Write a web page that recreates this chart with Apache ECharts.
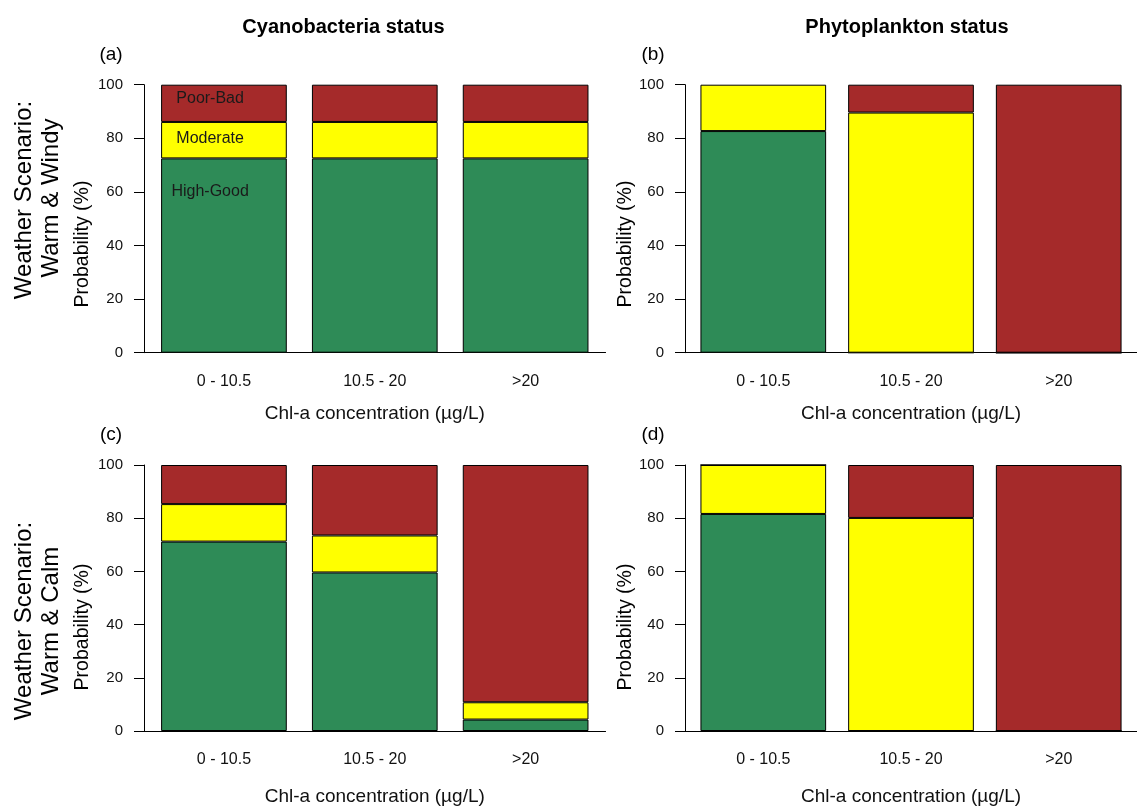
<!DOCTYPE html>
<html>
<head>
<meta charset="utf-8">
<script src="https://cdn.jsdelivr.net/npm/echarts@6/dist/echarts.min.js"></script>
<style>
html,body{margin:0;padding:0;background:#fff;}
#chart{width:1137px;height:807px;}
</style>
</head>
<body>
<div id="chart"></div>
<script>
// ---- data ----
const categories = ['0 - 10.5', '10.5 - 20', '>20'];
const statusNames = ['High-Good', 'Moderate', 'Poor-Bad'];
const yTicks = [0, 20, 40, 60, 80, 100];

// (a) Cyanobacteria, Warm & Windy
const cyanoWindyHighGood = [72.5, 72.5, 72.5];
const cyanoWindyModerate = [13.6, 13.6, 13.6];
const cyanoWindyPoorBad  = [13.9, 13.9, 13.9];
// (b) Phytoplankton, Warm & Windy
const phytoWindyHighGood = [82.7, 0, 0];
const phytoWindyModerate = [17.3, 89.6, 0];
const phytoWindyPoorBad  = [0, 10.4, 100];
// (c) Cyanobacteria, Warm & Calm
const cyanoCalmHighGood = [71.2, 59.6, 4.3];
const cyanoCalmModerate = [14.1, 13.9, 6.5];
const cyanoCalmPoorBad  = [14.7, 26.5, 89.2];
// (d) Phytoplankton, Warm & Calm
const phytoCalmHighGood = [81.6, 0, 0];
const phytoCalmModerate = [18.4, 80.1, 0];
const phytoCalmPoorBad  = [0, 19.9, 100];

// in-bar legend text (x in bar units, y in %)
const legendLabels = [[0.59, 95, 'Poor-Bad'], [0.59, 80, 'Moderate'], [0.59, 60, 'High-Good']];

const panelLetters = ['(a)', '(b)', '(c)', '(d)'];
const columnTitles = ['Cyanobacteria status', 'Phytoplankton status'];
const rowTitles = [['Weather Scenario:', 'Warm & Windy'], ['Weather Scenario:', 'Warm & Calm']];
const xTitle = 'Chl-a concentration (µg/L)';
const yTitle = 'Probability (%)';

// ---- layout ----
const FONT = '"Liberation Sans", Arial, Helvetica, sans-serif';
const colors = ['#2E8B57', '#FFFF00', '#A52A2A'];
const panels = [
  [cyanoWindyHighGood, cyanoWindyModerate, cyanoWindyPoorBad],
  [phytoWindyHighGood, phytoWindyModerate, phytoWindyPoorBad],
  [cyanoCalmHighGood, cyanoCalmModerate, cyanoCalmPoorBad],
  [phytoCalmHighGood, phytoCalmModerate, phytoCalmPoorBad]
];
// barplot geometry: width 1, space 0.2
const barX = categories.map((_, i) => 0.7 + 1.2 * i);
const xMin = 0.064, xMax = 3.736;
const unitPx = 125.7;
const gridW = (xMax - xMin) * unitPx;
const gridPos = [
  {left: 144, top: 84.7, height: 268, nameGap: 52},
  {left: 685, top: 84.7, height: 268, nameGap: 52},
  {left: 144, top: 465, height: 267.7, nameGap: 56},
  {left: 685, top: 465, height: 267.7, nameGap: 56}
];

const grid = gridPos.map(g => ({left: g.left, top: g.top, width: gridW, height: g.height, containLabel: false}));

const xAxis = gridPos.map((g, i) => ({
  type: 'value', gridIndex: i, min: xMin, max: xMax,
  splitLine: {show: false},
  axisTick: {show: false},
  axisLine: {show: true, onZero: false, lineStyle: {color: '#000', width: 1}},
  axisLabel: {
    customValues: barX,
    formatter: v => categories[Math.round((v - 0.7) / 1.2)] || '',
    fontSize: 16, fontFamily: FONT, color: '#111', margin: 21
  },
  name: xTitle, nameLocation: 'middle', nameGap: g.nameGap,
  nameTextStyle: {fontSize: 19, fontFamily: FONT, color: '#111'}
}));

const yAxis = gridPos.map((g, i) => ({
  type: 'value', gridIndex: i, min: 0, max: 100, interval: 20,
  splitLine: {show: false},
  axisLine: {show: true, lineStyle: {color: '#000', width: 1}},
  axisTick: {show: true, length: 10, lineStyle: {color: '#000', width: 1}},
  axisLabel: {fontSize: 15, fontFamily: FONT, color: '#111', margin: 21}
}));

const series = [];
panels.forEach((vals, p) => {
  vals.forEach((arr, k) => {
    series.push({
      type: 'bar', name: statusNames[k], xAxisIndex: p, yAxisIndex: p,
      stack: 'panel' + p, barWidth: unitPx,
      // value first so that the stacked dimension is y
      encode: {x: 1, y: 0},
      itemStyle: {color: colors[k], borderColor: '#000', borderWidth: 1},
      data: arr.map((v, i) => [v, barX[i]]),
      emphasis: {disabled: true}
    });
  });
});
series.push({
  type: 'scatter', xAxisIndex: 0, yAxisIndex: 0, symbolSize: 0, z: 10,
  data: legendLabels,
  itemStyle: {opacity: 1},
  label: {show: true, position: 'inside', formatter: p => p.data[2],
    fontSize: 16, fontFamily: FONT, color: '#1a1a1a', opacity: 1},
  emphasis: {disabled: true}
});

function txt(text, x, y, size, opts) {
  opts = opts || {};
  return {
    type: 'text', x: x, y: y, rotation: opts.rot || 0, z: 100,
    style: {text: text, fontSize: size, fontFamily: FONT, fontWeight: opts.bold ? 'bold' : 'normal',
      fill: '#000', textAlign: 'center', textVerticalAlign: 'middle'}
  };
}
const R = Math.PI / 2;
const graphic = [
  txt(columnTitles[0], 343.5, 27, 20, {bold: true}),
  txt(columnTitles[1], 907, 27, 20, {bold: true}),
  txt(panelLetters[0], 111, 55, 19),
  txt(panelLetters[1], 653, 55, 19),
  txt(panelLetters[2], 111, 435, 19),
  txt(panelLetters[3], 653, 435, 19),
  txt(rowTitles[0][0], 24, 200, 24, {rot: R}),
  txt(rowTitles[0][1], 51, 198, 24, {rot: R}),
  txt(rowTitles[1][0], 24, 621, 24, {rot: R}),
  txt(rowTitles[1][1], 51, 621, 24, {rot: R}),
  txt(yTitle, 83, 244, 19.5, {rot: R}),
  txt(yTitle, 626, 244, 19.5, {rot: R}),
  txt(yTitle, 83, 627, 19.5, {rot: R}),
  txt(yTitle, 626, 627, 19.5, {rot: R})
];

const chart = echarts.init(document.getElementById('chart'), null, {renderer: 'canvas'});
chart.setOption({
  animation: false,
  backgroundColor: '#fff',
  textStyle: {fontFamily: FONT},
  grid: grid, xAxis: xAxis, yAxis: yAxis, series: series, graphic: graphic
});
</script>
</body>
</html>
